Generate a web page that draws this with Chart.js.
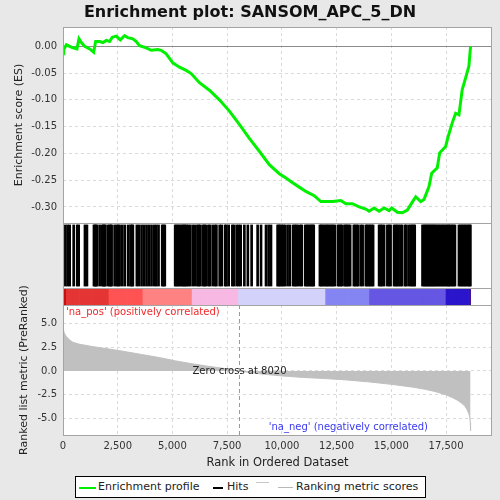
<!DOCTYPE html>
<html>
<head>
<meta charset="utf-8">
<script src="https://cdn.jsdelivr.net/npm/chart.js@4.4.1/dist/chart.umd.min.js"></script>
<style>
  body { margin: 0; background: #e8e8e8; font-family: "DejaVu Sans", sans-serif; }
  #wrap { position: relative; width: 500px; height: 500px; overflow: hidden; }
  canvas { position: absolute; left: 0; top: 0; }
  #title { position: absolute; left: 0; top: 1px; width: 500px; text-align: center;
           font-weight: bold; font-size: 16px; color: #111; line-height: 22px; }
  #legend { position: absolute; left: 75px; top: 476px; width: 349px; height: 20px;
            border: 1px solid #000; background: #fff; font-size: 11px; color: #222; }
  #legend span { position: absolute; }
  #legend .sw { height: 2px; }
  #legend .tx { top: 3px; line-height: 14px; white-space: nowrap; }
</style>
</head>
<body>
<div id="wrap">
  <canvas id="esChart" width="500" height="500"></canvas>
  <canvas id="hitsChart" width="500" height="500"></canvas>
  <canvas id="barChart" width="500" height="500"></canvas>
  <canvas id="metricChart" width="500" height="500"></canvas>
  <div id="title">Enrichment plot: SANSOM_APC_5_DN</div>
  <div id="legend">
    <span class="sw" style="left:3px;top:10px;width:17px;background:#00f000;"></span>
    <span class="tx" style="left:22px;">Enrichment profile</span>
    <span class="sw" style="left:137px;top:10px;width:10px;background:#000;"></span>
    <span class="tx" style="left:151px;">Hits</span>
    <span class="sw" style="left:180px;top:5px;width:13px;height:1px;background:#c8c8c8;"></span>
    <span class="sw" style="left:202px;top:10px;width:15px;height:1px;background:#b8b8b8;"></span>
    <span class="tx" style="left:220px;">Ranking metric scores</span>
  </div>
</div>
<script>
// values
const xMax = 19600;
const xTicks = [0, 2500, 5000, 7500, 10000, 12500, 15000, 17500];
const esTicks = [0, -0.05, -0.10, -0.15, -0.20, -0.25, -0.30];
const metricTicks = [5, 2.5, 0, -2.5, -5];
const zeroCross = 8020;

// running enrichment score
const esRanks = [0, 32, 155, 306, 456, 638, 730, 839, 990, 1218, 1400, 1491, 1674, 1824, 1979,
  2130, 2252, 2435, 2617, 2814, 2964, 3192, 3347, 3498, 3803, 4031, 4332, 4487, 4715, 5016,
  5322, 5627, 5855, 6234, 6690, 7146, 7602, 8058, 8514, 8970, 9426, 9882, 10186, 10489, 10793,
  11097, 11477, 11782, 12311, 12694, 12922, 13224, 13530, 13835, 13985, 14213, 14442, 14670,
  14898, 15021, 15276, 15504, 15732, 15960, 16115, 16343, 16493, 16721, 16845, 17100, 17209,
  17483, 17601, 17784, 17939, 18090, 18240, 18395, 18545, 18620];
const esValues = [-0.003, -0.006, 0.003, 0, -0.003, -0.005, 0.014, 0.007, 0, -0.005, -0.011, 0.009,
  0.009, 0.007, 0.011, 0.009, 0.017, 0.019, 0.012, 0.02, 0.016, 0.014, 0.009, 0.001, -0.003,
  -0.0075, -0.006, -0.0075, -0.014, -0.031, -0.039, -0.045, -0.051, -0.068, -0.082, -0.1,
  -0.121, -0.146, -0.172, -0.196, -0.221, -0.238, -0.246, -0.255, -0.263, -0.271, -0.279,
  -0.29, -0.29, -0.288, -0.294, -0.294, -0.3, -0.304, -0.308, -0.302, -0.308, -0.302, -0.307,
  -0.302, -0.31, -0.311, -0.306, -0.291, -0.281, -0.29, -0.286, -0.262, -0.237, -0.227,
  -0.199, -0.187, -0.168, -0.143, -0.125, -0.128, -0.081, -0.059, -0.037, 0];

// positions of the gene set members in the ranked list
const hitRanks = [109, 214, 306, 488, 648, 716, 1003, 1094, 1414, 1459, 1505, 1550, 1674,
  1797, 1842, 1888, 1933, 2052, 2130, 2175, 2221, 2358, 2462, 2517, 2586, 2709, 2827, 2982,
  3087, 3146, 3192, 3374, 3466, 3589, 3703, 3817, 3931, 4045, 4168, 4259, 4364, 4533, 4592,
  4651, 5125, 5185, 5253, 5322, 5399, 5472, 5527, 5581, 5641, 5718, 5809, 5928, 6028, 6142,
  6202, 6279, 6402, 6462, 6521, 6644, 6712, 6840, 6949, 7009, 7159, 7250, 7405, 7465, 7570,
  7738, 7807, 7934, 8026, 8117, 8286, 8445, 8618, 8892, 9047, 9275, 9394, 9503, 9804, 9859,
  9927, 9995, 10064, 10141, 10260, 10369, 10520, 10588, 10657, 10725, 10839, 10908, 11067,
  11136, 11204, 11272, 11341, 11400, 11455, 11737, 11797, 11856, 11934, 12002, 12070, 12130,
  12207, 12276, 12344, 12413, 12558, 12617, 12686, 12741, 12859, 12914, 12982, 13042, 13119,
  13288, 13347, 13416, 13484, 13607, 13689, 13835, 13894, 13963, 14031, 14099, 14168, 14442,
  14510, 14579, 14670, 14820, 14898, 14966, 15125, 15194, 15262, 15331, 15422, 15490, 15627,
  15673, 15787, 15878, 15946, 16015, 16069, 16425, 16493, 16553, 16612, 16676, 16735, 16794,
  16858, 16918, 16977, 17041, 17109, 17178, 17246, 17314, 17383, 17451, 17520, 17588, 17634,
  17702, 17771, 17839, 17907, 18090, 18158, 18227, 18295, 18363, 18431, 18500, 18568, 18613];

// ranked list metric
const metricRanks = [0, 30, 150, 300, 450, 750, 1350, 2100, 2900, 3650, 4400, 5150, 5900,
  6600, 7300, 8020, 9000, 10000, 11000, 12000, 13000, 14000, 15000, 16000, 16500, 17000,
  17500, 17800, 18000, 18200, 18350, 18450, 18530, 18580, 18610, 18620];
const metricValues = [4.3, 4.1, 3.6, 3.25, 3.0, 2.8, 2.55, 2.3, 2.0, 1.7, 1.4, 1.05, 0.75,
  0.5, 0.28, 0, -0.3, -0.52, -0.68, -0.8, -0.95, -1.15, -1.4, -1.7, -1.9, -2.15, -2.5, -2.8,
  -3.03, -3.35, -3.65, -4.0, -4.4, -4.8, -5.4, -6.25];

Chart.defaults.font.family = '"DejaVu Sans", sans-serif';
Chart.defaults.color = '#333';
Chart.defaults.animation = false;
Chart.defaults.responsive = false;
Chart.defaults.events = [];
Chart.defaults.plugins.legend.display = false;
Chart.defaults.plugins.tooltip.enabled = false;

const gridColor = '#dadada';

// white plot area and a grey frame round it
const panelBox = {
  id: 'panelBox',
  beforeDraw(chart) {
    const a = chart.chartArea, ctx = chart.ctx;
    ctx.save();
    ctx.fillStyle = '#fff';
    ctx.fillRect(a.left, a.top, a.right - a.left, a.bottom - a.top);
    ctx.restore();
  },
  afterDraw(chart) {
    const a = chart.chartArea, ctx = chart.ctx;
    ctx.save();
    ctx.strokeStyle = '#a4a4a4';
    ctx.lineWidth = 1;
    ctx.strokeRect(Math.round(a.left) + 0.5, Math.round(a.top) + 0.5,
      Math.round(a.right - a.left) - 1, Math.round(a.bottom - a.top));
    ctx.restore();
  }
};

// solid zero line of the ES panel
const esZero = {
  id: 'esZero',
  beforeDatasetsDraw(chart) {
    const y = Math.round(chart.scales.y.getPixelForValue(0)) + 0.5;
    const a = chart.chartArea, ctx = chart.ctx;
    ctx.save();
    ctx.strokeStyle = '#8c8c8c';
    ctx.lineWidth = 1;
    ctx.beginPath();
    ctx.moveTo(a.left, y);
    ctx.lineTo(a.right, y);
    ctx.stroke();
    ctx.restore();
  }
};

// zero cross marker and the two correlation labels
const metricNotes = {
  id: 'metricNotes',
  afterDatasetsDraw(chart) {
    const a = chart.chartArea, ctx = chart.ctx;
    const x = Math.round(chart.scales.x.getPixelForValue(zeroCross)) + 0.5;
    const y0 = chart.scales.y.getPixelForValue(0);
    ctx.save();
    ctx.strokeStyle = '#9a9a9a';
    ctx.setLineDash([4, 3]);
    ctx.beginPath();
    ctx.moveTo(x, a.top);
    ctx.lineTo(x, a.bottom);
    ctx.stroke();
    ctx.setLineDash([]);
    ctx.font = '10px "DejaVu Sans", sans-serif';
    ctx.textBaseline = 'middle';
    ctx.textAlign = 'center';
    ctx.fillStyle = '#222';
    ctx.fillText('Zero cross at ' + zeroCross, x, y0);
    ctx.textAlign = 'left';
    ctx.fillStyle = '#f22828';
    ctx.fillText("'na_pos' (positively correlated)", a.left + 3, a.top + 7);
    ctx.textAlign = 'right';
    ctx.fillStyle = '#3a3af0';
    ctx.fillText("'na_neg' (negatively correlated)", a.right - 64, a.bottom - 8);
    ctx.restore();
  }
};

function setTicks(list) {
  return scale => { scale.ticks = list.map(v => ({ value: v })); };
}

// GSEA style colour for a metric value
function metricColor(v) {
  if (v >= 4) return '#c41010';
  if (v > 2.5) return '#e43434';
  if (v > 1.75) return '#ff5252';
  if (v > 0.8) return '#ff8282';
  if (v > 0) return '#f7b8e4';
  if (v > -0.75) return '#d2d2fa';
  if (v > -1.1) return '#8484f2';
  if (v > -2.3) return '#6656e4';
  if (v > -5) return '#2a14cc';
  return '#3c0a8c';
}

// top panel: enrichment profile
new Chart(document.getElementById('esChart'), {
  type: 'line',
  data: {
    datasets: [{
      data: esRanks.map((r, i) => ({ x: r, y: esValues[i] })),
      borderColor: '#00f000',
      borderWidth: 3,
      pointRadius: 0,
      tension: 0,
      fill: false
    }]
  },
  options: {
    layout: { padding: { left: 0, top: 27, right: 8, bottom: 277 } },
    scales: {
      x: {
        type: 'linear', min: 0, max: xMax,
        afterBuildTicks: setTicks(xTicks),
        afterFit: s => { s.height = 0; },
        ticks: { display: false },
        grid: { color: gridColor, drawTicks: false },
        border: { display: false, dash: [3, 3] }
      },
      y: {
        min: -0.33, max: 0.036,
        afterBuildTicks: setTicks(esTicks),
        afterFit: s => { s.width = 63; },
        ticks: { padding: 6, font: { size: 10 }, callback: v => v.toFixed(2) },
        grid: { color: gridColor, drawTicks: false },
        border: { display: false, dash: [3, 3] },
        title: { display: true, text: 'Enrichment score (ES)', color: '#222',
                 font: { size: 11 }, padding: { top: 13, bottom: 0 } }
      }
    }
  },
  plugins: [panelBox, esZero]
});

// middle panel: hits
new Chart(document.getElementById('hitsChart'), {
  type: 'bar',
  data: {
    datasets: [{
      data: hitRanks.map(r => ({ x: r, y: [0.03, 0.97] })),
      backgroundColor: '#000',
      barThickness: 2,
      borderWidth: 0
    }]
  },
  options: {
    layout: { padding: { left: 63, top: 223, right: 8, bottom: 212 } },
    scales: {
      x: { type: 'linear', min: 0, max: xMax, offset: false, display: false },
      y: { min: 0, max: 1, display: false }
    }
  },
  plugins: [panelBox]
});

// colour bar of the ranked list
new Chart(document.getElementById('barChart'), {
  type: 'bar',
  data: {
    labels: ['rank'],
    datasets: [{
      data: metricRanks.slice(0, -1).map((r, i) => ({ x: [r, metricRanks[i + 1]], y: 'rank' })),
      backgroundColor: metricValues.slice(0, -1).map(metricColor),
      barPercentage: 1,
      categoryPercentage: 1,
      borderWidth: 0,
      grouped: false
    }]
  },
  options: {
    indexAxis: 'y',
    layout: { padding: { left: 63, top: 288, right: 8, bottom: 195 } },
    scales: {
      x: { type: 'linear', min: 0, max: xMax, offset: false, display: false },
      y: { display: false }
    }
  },
  plugins: [panelBox]
});

// bottom panel: ranked list metric
new Chart(document.getElementById('metricChart'), {
  type: 'line',
  data: {
    datasets: [{
      data: metricRanks.map((r, i) => ({ x: r, y: metricValues[i] })),
      borderColor: '#c0c0c0',
      backgroundColor: '#c0c0c0',
      borderWidth: 1,
      pointRadius: 0,
      fill: 'origin'
    }]
  },
  options: {
    layout: { padding: { left: 0, top: 305, right: 8, bottom: 0 } },
    scales: {
      x: {
        type: 'linear', min: 0, max: xMax,
        afterBuildTicks: setTicks(xTicks),
        afterFit: s => { s.height = 65; },
        ticks: { padding: 5, font: { size: 10 }, maxRotation: 0, autoSkip: false,
                 callback: v => v.toLocaleString('en-US') },
        grid: { color: gridColor, drawTicks: false },
        border: { display: false, dash: [3, 3] },
        title: { display: true, text: 'Rank in Ordered Dataset', color: '#222',
                 font: { size: 11.5 }, padding: { top: 0, bottom: 30 } }
      },
      y: {
        min: -6.7, max: 6.9,
        afterBuildTicks: setTicks(metricTicks),
        afterFit: s => { s.width = 63; },
        ticks: { padding: 6, font: { size: 10 }, callback: v => v.toFixed(1) },
        grid: { color: gridColor, drawTicks: false },
        border: { display: false, dash: [3, 3] },
        title: { display: true, text: 'Ranked list metric (PreRanked)', color: '#222',
                 font: { size: 11 }, padding: { top: 18, bottom: 0 } }
      }
    }
  },
  plugins: [panelBox, metricNotes]
});
</script>
</body>
</html>
